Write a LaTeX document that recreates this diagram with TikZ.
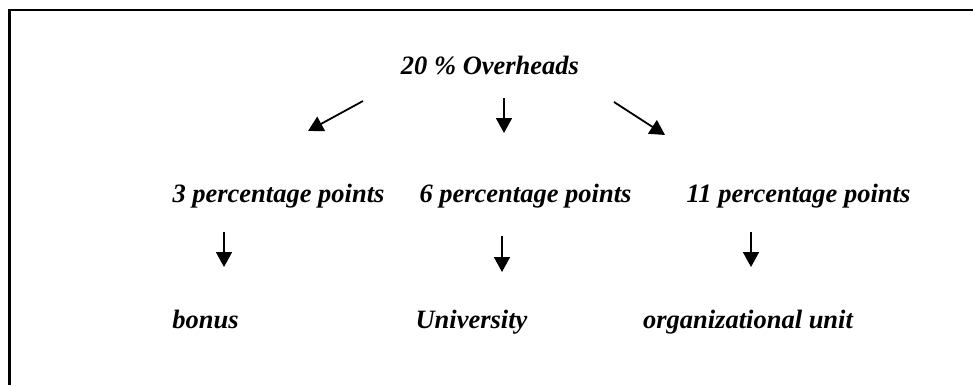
\documentclass[tikz,border=0pt]{standalone}
\usepackage{fontspec}
\setmainfont{Liberation Serif}
\usepackage{tikz}
\usetikzlibrary{arrows.meta}

\tikzset{
  lbl/.style={anchor=base, inner sep=0pt, font=\fontsize{26.5}{30}\selectfont\bfseries\itshape},
  arr/.style={line width=1.8pt, -{Triangle[length=15pt,width=16pt]}}
}

\begin{document}
\begin{tikzpicture}[x=1pt, y=-1pt]
  \useasboundingbox (0,0) rectangle (973,385);
  \draw[line width=2.3pt] (9.5,385) -- (9.5,10) -- (973,10);

  \node[lbl] (over) at (490,75) {20 \% Overheads};

  \node[lbl] (pthree) at (278.5,202) {3 percentage points};
  \node[lbl] (psix) at (525.5,202) {6 percentage points};
  \node[lbl] (pelev) at (798.5,202) {11 percentage points};

  \node[lbl] (bonus) at (205.5,328) {bonus};
  \node[lbl] (univ) at (471.5,328) {University};
  \node[lbl] (orgu) at (748,328) {organizational unit};

  % arrow ends
  \coordinate (overl) at (363,101);
  \coordinate (overm) at (504,98);
  \coordinate (overr) at (614,102);
  \coordinate (pthreet) at (308,131);
  \coordinate (psixt) at (504,133);
  \coordinate (pelevt) at (665,135);

  \coordinate (pthreeb) at (224,232);
  \coordinate (psixb) at (502,236);
  \coordinate (pelevb) at (751,232);
  \coordinate (bonust) at (224,267);
  \coordinate (univt) at (502,272);
  \coordinate (orgut) at (751,267);

  \draw[arr] (overl) -- (pthreet);
  \draw[arr] (overm) -- (psixt);
  \draw[arr] (overr) -- (pelevt);

  \draw[arr] (pthreeb) -- (bonust);
  \draw[arr] (psixb) -- (univt);
  \draw[arr] (pelevb) -- (orgut);

\end{tikzpicture}
\end{document}
